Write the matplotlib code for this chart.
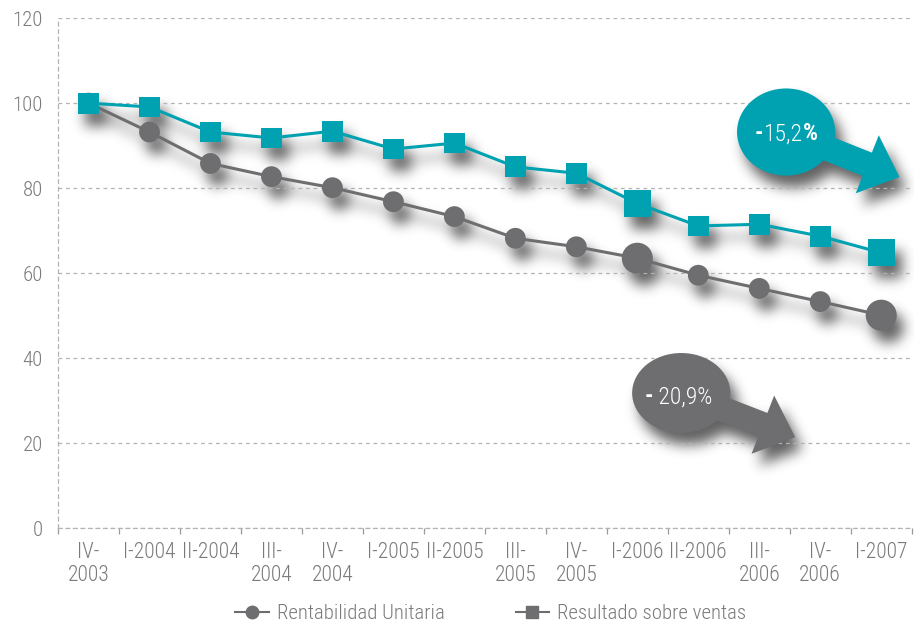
import numpy as np
import matplotlib
matplotlib.use('Agg')
import matplotlib.pyplot as plt
from matplotlib.patches import Ellipse
from matplotlib.lines import Line2D

# datos trimestrales (indice base 100 = IV-2003)
periodos = ['IV-\n2003', 'I-2004', 'II-2004', 'III-\n2004', 'IV-\n2004', 'I-2005', 'II-2005',
            'III-\n2005', 'IV-\n2005', 'I-2006', 'II-2006', 'III-\n2006', 'IV-\n2006', 'I-2007']
rentabilidad = [100, 93.2, 85.8, 82.7, 80.1, 76.8, 73.3, 68.2, 66.2, 63.5, 59.5, 56.4, 53.3, 50.1]
resultado = [100, 99.1, 93.2, 91.8, 93.4, 89.2, 90.6, 85.0, 83.5, 76.4, 71.1, 71.5, 68.7, 64.8]
series = ['Rentabilidad Unitaria', 'Resultado sobre ventas']
var_resultado = '15,2'
var_rentabilidad = '20,9%'

GRIS = '#6e6e70'
TURQUESA = '#00a1b0'
TEXTO = '#7a7a7a'
REJILLA = '#b3b3b3'
FUENTE = ['Roboto Condensed', 'Liberation Sans Narrow', 'DejaVu Sans']
RECT = [0.0635, 0.155, 0.934, 0.816]

# los puntos de I-2006 y I-2007 van resaltados
tam_circulo = [225] * len(periodos)
tam_cuadro = [225] * len(periodos)
for i in (9, 13):
    tam_circulo[i] = 500
    tam_cuadro[i] = 370

plt.rcParams['font.family'] = FUENTE
plt.rcParams['font.weight'] = 'light'
x = np.arange(len(periodos))


def dibujar(ax, c_gris, c_turq):
    ax.plot(x, rentabilidad, color=c_gris, lw=2.2, zorder=3)
    ax.scatter(x, rentabilidad, s=tam_circulo, marker='o', color=c_gris, lw=0, zorder=4)
    ax.plot(x, resultado, color=c_turq, lw=2.2, zorder=5)
    ax.scatter(x, resultado, s=tam_cuadro, marker='s', color=c_turq, lw=0, zorder=6)
    flecha = 'simple,head_length=2.5,head_width=4.5,tail_width=1.8'
    ax.add_patch(Ellipse((11.44, 93.2), 1.61, 20.5, color=c_turq, lw=0, zorder=7))
    ax.annotate('', xy=(13.3, 82.6), xytext=(11.44, 93.2), zorder=7,
                arrowprops=dict(arrowstyle=flecha, fc=c_turq, ec='none',
                                shrinkA=0, shrinkB=0, mutation_scale=10))
    ax.add_patch(Ellipse((9.72, 31.8), 1.61, 18.8, color=c_gris, lw=0, zorder=7))
    ax.annotate('', xy=(11.59, 21.4), xytext=(9.72, 31.8), zorder=7,
                arrowprops=dict(arrowstyle=flecha, fc=c_gris, ec='none',
                                shrinkA=0, shrinkB=0, mutation_scale=10))


def limites(ax):
    ax.set_xlim(-0.5, len(periodos) - 0.5)
    ax.set_ylim(0, 120)


def desenfocar(a, sigma):
    r = int(3 * sigma)
    k = np.exp(-np.arange(-r, r + 1) ** 2 / (2 * sigma ** 2))
    k /= k.sum()
    a = np.apply_along_axis(lambda v: np.convolve(v, k, mode='same'), 0, a)
    a = np.apply_along_axis(lambda v: np.convolve(v, k, mode='same'), 1, a)
    return a


# sombra: se dibujan las marcas en negro en otra figura y se difumina
fig_s = plt.figure(figsize=(9.14, 6.25), dpi=100)
fig_s.patch.set_alpha(0)
ax_s = fig_s.add_axes(RECT)
ax_s.patch.set_alpha(0)
ax_s.axis('off')
limites(ax_s)
dibujar(ax_s, 'black', 'black')
fig_s.canvas.draw()
mascara = np.asarray(fig_s.canvas.buffer_rgba())[..., 3] / 255.0
plt.close(fig_s)
sombra = np.zeros(mascara.shape + (4,))
sombra[..., 3] = np.clip(desenfocar(mascara, 6.5) * 0.62, 0, 1)

fig = plt.figure(figsize=(9.14, 6.25), dpi=100)
fig.patch.set_facecolor('white')
fig.figimage(sombra, xo=7, yo=-12, origin='upper', zorder=-1)
ax = fig.add_axes(RECT)
ax.set_facecolor('none')
limites(ax)
dibujar(ax, GRIS, TURQUESA)

# textos de las variaciones
t = ax.text(10.93, 92.8, '-', color='white', fontsize=17, fontweight='bold', va='center', zorder=8)
t = ax.annotate(var_resultado, xy=(1, 0), xycoords=t, color='white', fontsize=17, va='bottom', zorder=8)
ax.annotate('%', xy=(1, 0), xycoords=t, color='white', fontsize=17, fontweight='bold', va='bottom', zorder=8)
t = ax.text(9.12, 30.9, '-', color='white', fontsize=17, fontweight='bold', va='center', zorder=8)
ax.annotate(' ' + var_rentabilidad, xy=(1, 0), xycoords=t, color='white', fontsize=17, va='bottom', zorder=8)

# ejes
ax.set_yticks(range(0, 121, 20))
ax.yaxis.grid(True, ls=(0, (3, 3)), color=REJILLA, lw=0.9)
ax.set_axisbelow(True)
for lado in ('top', 'right'):
    ax.spines[lado].set_visible(False)
for lado in ('left', 'bottom'):
    ax.spines[lado].set_linestyle((0, (3, 3)))
    ax.spines[lado].set_color(REJILLA)
    ax.spines[lado].set_linewidth(0.9)
ax.set_xticks(x)
ax.set_xticklabels(periodos, linespacing=1.15)
ax.set_xticks(np.arange(-0.5, len(periodos), 1), minor=True)
ax.tick_params(axis='x', which='major', length=0, pad=10, labelsize=15.5, labelcolor=TEXTO)
ax.tick_params(axis='x', which='minor', length=4, color='#999999', width=0.9)
ax.tick_params(axis='y', length=0, pad=11, labelsize=15, labelcolor=TEXTO)

# leyenda
marcas = [Line2D([], [], color=GRIS, lw=1.5, marker='o', ms=9),
          Line2D([], [], color=GRIS, lw=1.5, marker='s', ms=9)]
ley = fig.legend(marcas, series, loc='lower center', bbox_to_anchor=(0.537, -0.027), ncol=2,
                 frameon=False, fontsize=15, columnspacing=3.4, handlelength=1.6, handletextpad=0.4)
for texto in ley.get_texts():
    texto.set_color(TEXTO)

fig.savefig('out.png', dpi=100)
